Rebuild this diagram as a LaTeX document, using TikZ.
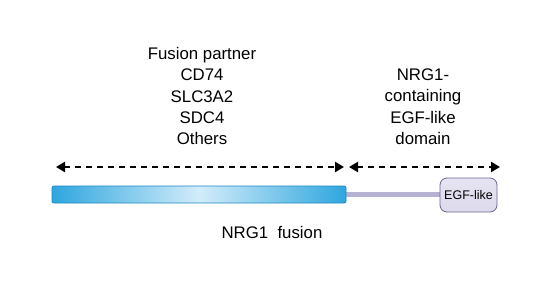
\documentclass[tikz,border=0pt]{standalone}
\usepackage{fontspec}
\setmainfont{Liberation Sans}
\usetikzlibrary{arrows.meta}
\definecolor{barblue}{HTML}{2FA6DE}
\definecolor{barlight}{HTML}{D2ECFA}
\definecolor{barborder}{HTML}{1F88C4}
\definecolor{linkgray}{HTML}{B6B2D2}
\definecolor{egfborder}{HTML}{6A6690}
\definecolor{egffill}{HTML}{E6E4F2}
\begin{document}
\begin{tikzpicture}[x=1pt,y=-1pt,
  lbl/.style={font=\fontsize{16.8}{21.4}\selectfont, align=center, inner sep=0pt},
  span/.style={line width=2.4pt, dash pattern=on 6pt off 5pt, {Triangle[length=9pt,width=10pt]}-{Triangle[length=9pt,width=10pt]}},
]
\useasboundingbox (0,0) rectangle (552,289);
% gray linker
\node[coordinate] (linkA) at (346,194.5) {};
\node[coordinate] (linkB) at (442,194.5) {};
\draw[linkgray, line width=5pt] (linkA) -- (linkB);
% blue bar
\node[draw=barborder, line width=0.8pt, rounded corners=2pt, minimum width=294pt, minimum height=17pt, inner sep=0pt,
  left color=barblue, right color=barblue, middle color=barlight] (bar) at (199,194.5) {};
% EGF box
\node[draw=egfborder, line width=0.8pt, rounded corners=7pt, minimum width=57pt, minimum height=34pt, inner sep=0pt,
  top color=egffill, bottom color=egffill!80!linkgray, font=\fontsize{12.5}{14}\selectfont] (egf) at (468.5,195) {EGF-like};
% arrows
\node[coordinate] (a1) at (56,167) {};
\node[coordinate] (a2) at (344,167) {};
\node[coordinate] (b1) at (349,167) {};
\node[coordinate] (b2) at (500,167) {};
\draw[span] (a1) -- (a2);
\draw[span] (b1) -- (b2);
% texts
\node[lbl, anchor=north] (partner) at (202,47) {Fusion partner\\CD74\\SLC3A2\\SDC4\\Others};
\node[lbl, anchor=north] (domain) at (423,68.5) {NRG1-\\containing\\EGF-like\\domain};
\node[lbl] (fusion) at (272,232) {NRG1\ \ fusion};
\end{tikzpicture}
\end{document}
